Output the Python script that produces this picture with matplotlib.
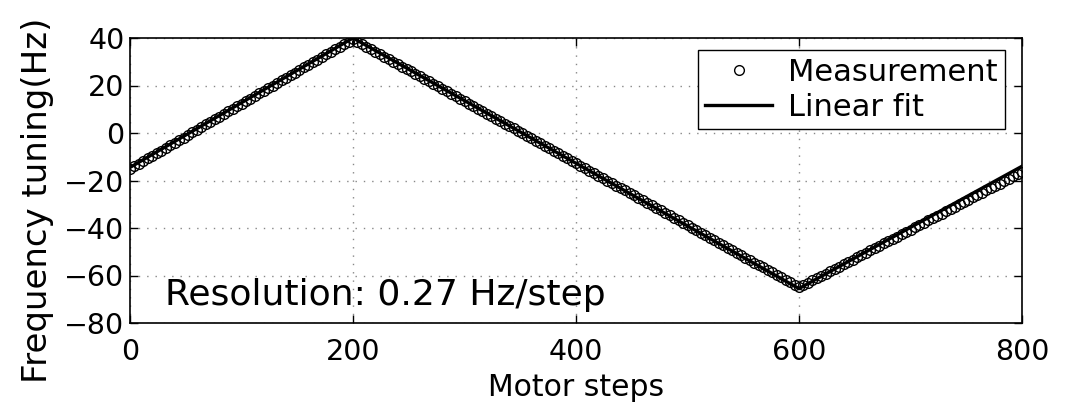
import matplotlib
matplotlib.use("Agg")
import matplotlib.pyplot as plt
import numpy as np

plt.rcParams['font.family'] = ['DejaVu Sans']

steps_up1 = list(range(0, 201, 4))
meas_up1 = [-15.0, -14.0, -12.9, -11.8, -10.7, -9.6, -8.5, -7.4, -6.3, -5.2,
            -4.1, -3.0, -1.9, -0.8, 0.3, 1.4, 2.5, 3.6, 4.7, 5.8,
            6.9, 8.0, 9.1, 10.2, 11.2, 12.3, 13.4, 14.5, 15.6, 16.7,
            17.8, 18.9, 20.0, 21.1, 22.2, 23.2, 24.3, 25.4, 26.5, 27.6,
            28.7, 29.8, 30.9, 32.0, 33.1, 34.2, 35.2, 36.3, 37.4, 38.5, 39.5]
steps_down = list(range(204, 601, 4))
meas_down = [38.5, 37.4, 36.4, 35.3, 34.3, 33.2, 32.2, 31.1, 30.1, 29.1,
             28.0, 27.0, 25.9, 24.9, 23.8, 22.8, 21.7, 20.7, 19.6, 18.6,
             17.6, 16.5, 15.5, 14.4, 13.4, 12.3, 11.3, 10.2, 9.2, 8.1,
             7.1, 6.1, 5.0, 4.0, 2.9, 1.9, 0.8, -0.2, -1.3, -2.3,
             -3.3, -4.4, -5.4, -6.5, -7.5, -8.6, -9.6, -10.7, -11.7, -12.8,
             -13.8, -14.8, -15.9, -16.9, -18.0, -19.0, -20.1, -21.1, -22.2, -23.2,
             -24.2, -25.3, -26.3, -27.4, -28.4, -29.5, -30.5, -31.6, -32.6, -33.7,
             -34.7, -35.7, -36.8, -37.8, -38.9, -39.9, -41.0, -42.0, -43.1, -44.1,
             -45.1, -46.2, -47.2, -48.3, -49.3, -50.4, -51.4, -52.5, -53.5, -54.6,
             -55.6, -56.6, -57.7, -58.7, -59.8, -60.8, -61.9, -62.9, -64.0, -65.0]
steps_up2 = list(range(604, 801, 4))
meas_up2 = [-64.0, -63.1, -62.1, -61.1, -60.1, -59.2, -58.2, -57.2, -56.3, -55.3,
            -54.3, -53.3, -52.4, -51.4, -50.4, -49.4, -48.5, -47.5, -46.5, -45.6,
            -44.6, -43.6, -42.6, -41.7, -40.7, -39.7, -38.8, -37.8, -36.8, -35.8,
            -34.9, -33.9, -32.9, -32.0, -31.0, -30.0, -29.0, -28.1, -27.1, -26.1,
            -25.2, -24.2, -23.2, -22.2, -21.3, -20.3, -19.3, -18.3, -17.4, -16.4]

# Linear fit vertices
fit_steps = [0, 200, 600, 800]
fit_values = [-14.5, 40.0, -65.5, -14.0]

x_ticks = [0, 200, 400, 600, 800]
y_ticks = [-80, -60, -40, -20, 0, 20, 40]

steps = steps_up1 + steps_down + steps_up2
meas = meas_up1 + meas_down + meas_up2

fig = plt.figure(figsize=(10.66, 4.05), dpi=100)
ax = fig.add_axes([130/1066, 1 - 323/405, (1022-130)/1066, (323-38)/405])

line_fit, = ax.plot(fit_steps, fit_values, color='black', lw=2.4, zorder=2,
                    label='Linear fit')
pts, = ax.plot(steps, meas, linestyle='none', marker='o', markersize=7,
               markerfacecolor='none', markeredgecolor='black',
               markeredgewidth=1.0, zorder=3, label='Measurement')

ax.set_xlim(0, 800)
ax.set_ylim(-80, 40)
ax.set_xticks(x_ticks)
ax.set_yticks(y_ticks)
ax.grid(True, color='#888888', linestyle=(0, (1, 5)), linewidth=1.0)
ax.tick_params(direction='in', length=6, width=1, top=True, right=True,
               labelsize=20.5)
ax.tick_params(axis='x', pad=11)
ax.tick_params(axis='y', pad=4)
for s in ax.spines.values():
    s.set_linewidth(1.2)
    s.set_color('black')

ax.set_xlabel('Motor steps', fontsize=21.5, labelpad=5)
fig.text(38/1066, (405-383)/405, 'Frequency tuning(Hz)', rotation=90,
         ha='center', va='bottom', fontsize=24.5)

ax.text(0.039, 0.098, 'Resolution: 0.27 Hz/step', transform=ax.transAxes,
        fontsize=26, va='center', ha='left')

leg = ax.legend(handles=[pts, line_fit], loc='upper right',
                bbox_to_anchor=(1005/1066, 1 - 50/405),
                bbox_transform=fig.transFigure, fontsize=22,
                frameon=True, fancybox=False, framealpha=1, edgecolor='black',
                borderpad=0.25, handlelength=2.2, handletextpad=0.5,
                labelspacing=0.2, borderaxespad=0)
leg.get_frame().set_linewidth(1.0)

fig.savefig('out.png', dpi=100)
